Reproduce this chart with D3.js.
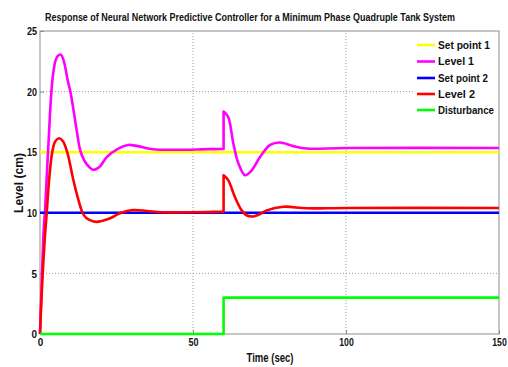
<!DOCTYPE html>
<html><head><meta charset="utf-8">
<script src="https://cdn.jsdelivr.net/npm/d3@7/dist/d3.min.js"></script>
<style>body{margin:0;background:#fff}svg{display:block}</style>
</head><body>
<svg id="c" width="508" height="367"></svg>
<script>
const xTicks = [0, 50, 100, 150];
const yTicks = [0, 5, 10, 15, 20, 25];
const seriesNames = ["Set point 1", "Level 1", "Set point 2", "Level 2", "Disturbance"];
const seriesColors = ["#ffff00", "#ff00ff", "#0000ff", "#ff0000", "#00ff00"];

const setPoint1 = [[0, 15], [150, 15]];
const setPoint2 = [[0, 10], [150, 10]];
const disturbance = [[0, 0], [60, 0], [60, 3], [150, 3]];
const level1 = [[0,0],[0.4,3],[0.8,6],[1.2,8.6],[1.7,10.5],[2.3,13.5],[3,16.8],[3.5,19.2],[4.2,21.3],[5,22.5],[5.8,22.95],[6.8,23.05],[7.8,22.5],[9,21],[10,19.9],[12,16.8],[13.1,15.2],[14.5,14.3],[16,13.8],[17.4,13.55],[19.5,13.8],[21.8,14.6],[25.6,15.3],[28.8,15.6],[32,15.5],[37,15.24],[45,15.2],[55,15.25],[60,15.26],[60,18.35],[61.5,17.9],[63.2,15.7],[64.8,14.1],[67,13.1],[69.2,13.5],[71.9,14.6],[75.2,15.6],[78.4,15.8],[82.8,15.5],[87.2,15.3],[100,15.35],[150,15.35]];
const level2 = [[0,0],[0.5,3],[1,5.5],[1.6,8],[2.2,10],[3,12.8],[4,15],[5,15.9],[6.3,16.15],[7.5,15.9],[8.9,15],[10,13.8],[10.9,12.7],[12.3,11.3],[13.9,10],[15,9.6],[16.3,9.4],[18.5,9.25],[20.5,9.35],[22.9,9.55],[26.1,9.96],[30.4,10.23],[35,10.15],[40,10.05],[50,10.05],[60,10.1],[60,13.1],[61.5,12.7],[63.7,11.3],[65.9,10.2],[67.5,9.8],[69.7,9.7],[71.5,9.85],[74.1,10.2],[79.5,10.5],[87.2,10.37],[100,10.4],[150,10.4]];

const W = 508, H = 367;
const m = {l: 40, r: 9, t: 31, b: 33};
const svg = d3.select("#c");
const x = d3.scaleLinear().domain([0, 150]).range([m.l, W - m.r]);
const y = d3.scaleLinear().domain([0, 25]).range([H - m.b, m.t]);
const FONT = "'Liberation Sans Narrow', 'Liberation Sans', Arial, sans-serif";

function fit(sel, len) { sel.attr("textLength", len).attr("lengthAdjust", "spacingAndGlyphs"); }

// grid
const g = svg.append("g");
g.selectAll(".gx").data(xTicks.filter(d => d > 0 && d < 150)).join("line")
  .attr("x1", d => x(d)).attr("x2", d => x(d)).attr("y1", y(0)).attr("y2", y(25))
  .attr("stroke", "#9a9a9a").attr("stroke-width", 1).attr("stroke-dasharray", "1,2");
g.selectAll(".gy").data(yTicks.filter(d => d > 0 && d < 25)).join("line")
  .attr("x1", x(0)).attr("x2", x(150)).attr("y1", d => y(d)).attr("y2", d => y(d))
  .attr("stroke", "#9a9a9a").attr("stroke-width", 1).attr("stroke-dasharray", "1,2");

// axes with d3
const xa = svg.append("g").attr("transform", `translate(0,${y(0)})`)
  .call(d3.axisBottom(x).tickValues(xTicks).tickSize(-4).tickPadding(5).tickFormat(d3.format("d")));
const ya = svg.append("g").attr("transform", `translate(${x(0)},0)`)
  .call(d3.axisLeft(y).tickValues(yTicks).tickSize(-4).tickPadding(3).tickFormat(d3.format("d")));
[xa, ya].forEach(a => {
  a.select(".domain").remove();
  a.selectAll(".tick line").attr("stroke", "#888");
  a.selectAll("text").attr("font-family", FONT).attr("font-weight", "bold").attr("font-size", 11.5).attr("fill", "#111")
    .each(function(d) { const s = String(d).length; fit(d3.select(this), s === 1 ? 5.5 : s === 2 ? 10 : 14.5); });
});
xa.selectAll("text").attr("dy", "0.6em");

// box
svg.append("rect").attr("x", x(0)).attr("y", y(25)).attr("width", x(150) - x(0)).attr("height", y(0) - y(25))
  .attr("fill", "none").attr("stroke", "#8c8c8c").attr("stroke-width", 1);

// lines (split at the step so the jump stays vertical)
const line = d3.line().x(d => x(d[0])).y(d => y(d[1])).curve(d3.curveCatmullRom.alpha(0.5));
const lin = d3.line().x(d => x(d[0])).y(d => y(d[1]));
function stepCurve(d) {
  const k = d.findIndex((p, i) => i > 0 && p[0] === d[i - 1][0]);
  if (k < 0) return line(d);
  return line(d.slice(0, k)) + line(d.slice(k)).replace(/^M/, "L");
}
const data = [setPoint1, level1, setPoint2, level2, disturbance];
const curved = [false, true, false, true, false];
data.forEach((d, i) => {
  svg.append("path").attr("d", curved[i] ? stepCurve(d) : lin(d)).attr("fill", "none")
    .attr("stroke", seriesColors[i]).attr("stroke-width", 2.6).attr("stroke-linejoin", "round");
});

// legend
const lg = svg.append("g");
lg.append("rect").attr("x", 413).attr("y", 36).attr("width", 84).attr("height", 82).attr("fill", "#fff");
const rowsY = [45, 61.5, 78, 94, 110];
const legLens = [52, 36, 50, 37, 56];
seriesNames.forEach((n, i) => {
  lg.append("line").attr("x1", 417).attr("x2", 435).attr("y1", rowsY[i]).attr("y2", rowsY[i])
    .attr("stroke", seriesColors[i]).attr("stroke-width", 2.6);
  const t = lg.append("text").attr("x", 438).attr("y", rowsY[i]).attr("dy", "0.35em")
    .attr("font-family", FONT).attr("font-weight", "bold").attr("font-size", 11).attr("fill", "#111").text(n);
  fit(t, legLens[i]);
});

// title and labels
const title = svg.append("text").attr("x", 250).attr("y", 17).attr("dy", "0.35em").attr("text-anchor", "middle")
  .attr("font-family", FONT).attr("font-weight", "bold").attr("font-size", 11).attr("fill", "#111")
  .text("Response of Neural Network Predictive Controller for a Minimum Phase Quadruple Tank System");
fit(title, 410);
const xl = svg.append("text").attr("x", 270).attr("y", 358).attr("dy", "0.35em").attr("text-anchor", "middle")
  .attr("font-family", FONT).attr("font-weight", "bold").attr("font-size", 12).attr("fill", "#111").text("Time (sec)");
fit(xl, 47);
const yl = svg.append("text").attr("transform", `translate(19,183) rotate(-90)`).attr("dy", "0.35em").attr("text-anchor", "middle")
  .attr("font-family", FONT).attr("font-weight", "bold").attr("font-size", 12).attr("fill", "#111").text("Level (cm)");
fit(yl, 60);
</script>
</body></html>
